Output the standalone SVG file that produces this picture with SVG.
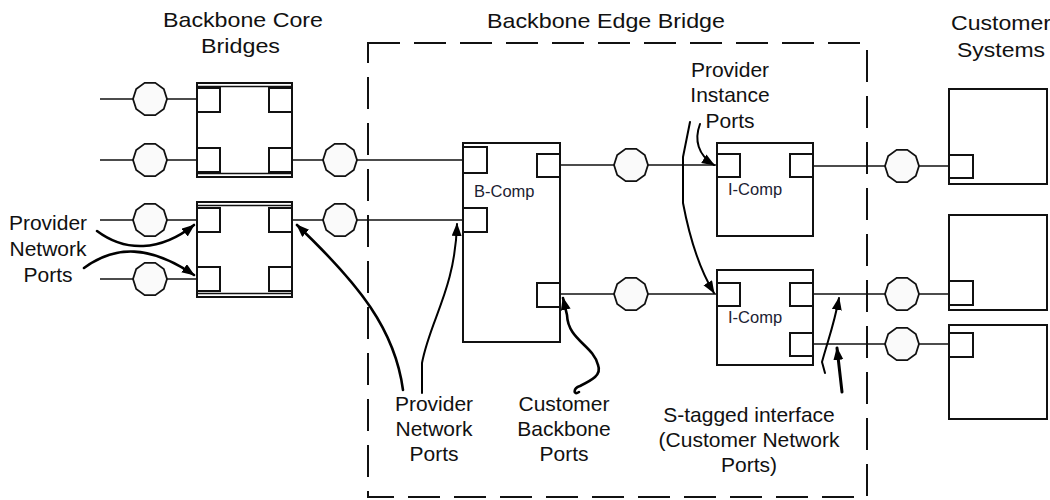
<svg xmlns="http://www.w3.org/2000/svg" xmlns:xlink="http://www.w3.org/1999/xlink" width="1050" height="500" viewBox="0 0 1050 500">
<style>
.box{fill:#fff;stroke:#111;stroke-width:2}
.port{fill:#fff;stroke:#111;stroke-width:2}
.ln{fill:none;stroke:#111;stroke-width:1.6}
.oct{fill:#fafafa;stroke:#111;stroke-width:1.8}
.arr{fill:none;stroke:#000;stroke-width:2.6;stroke-linecap:round;stroke-linejoin:round}
.dash{fill:none;stroke:#111;stroke-width:2;stroke-dasharray:32 14}
.hd{font-family:"Liberation Sans",Arial,sans-serif;font-size:21px;fill:#111}
.lbl{font-family:"Liberation Sans",Arial,sans-serif;font-size:21px;fill:#111;text-anchor:middle}
.cmp{font-family:"Liberation Sans",Arial,sans-serif;font-size:16.5px;fill:#1c2233}
</style>
<defs>
<polygon id="octa" points="17,0 13.8,10 5.3,16.2 -5.3,16.2 -13.8,10 -17,0 -13.8,-10 -5.3,-16.2 5.3,-16.2 13.8,-10"/>
<marker id="ah" markerUnits="userSpaceOnUse" markerWidth="14" markerHeight="12" refX="12" refY="5" orient="auto">
<path d="M0,0 L13,5 L0,10 Z" fill="#000"/>
</marker>
</defs>
<rect id="edge-bridge-frame" class="dash" x="368" y="43" width="499" height="454"/>
<g id="titles">
<text class="hd" x="163" y="27" textLength="160" lengthAdjust="spacingAndGlyphs">Backbone Core</text>
<text class="hd" x="201" y="53" textLength="79" lengthAdjust="spacingAndGlyphs">Bridges</text>
<text class="hd" x="487" y="28" textLength="238" lengthAdjust="spacingAndGlyphs">Backbone Edge Bridge</text>
<text class="hd" x="951" y="30" textLength="100" lengthAdjust="spacingAndGlyphs">Customer</text>
<text class="hd" x="957" y="57" textLength="88" lengthAdjust="spacingAndGlyphs">Systems</text>
</g>
<g id="connectors">
<line class="ln" x1="100" y1="99" x2="197" y2="99"/>
<line class="ln" x1="100" y1="160" x2="197" y2="160"/>
<line class="ln" x1="100" y1="220" x2="197" y2="220"/>
<line class="ln" x1="100" y1="279" x2="197" y2="279"/>
<line class="ln" x1="292" y1="160" x2="463" y2="160"/>
<line class="ln" x1="292" y1="220" x2="463" y2="220"/>
<line class="ln" x1="560" y1="165" x2="717" y2="165"/>
<line class="ln" x1="560" y1="294" x2="717" y2="294"/>
<line class="ln" x1="813" y1="166" x2="949" y2="166"/>
<line class="ln" x1="813" y1="294" x2="949" y2="294"/>
<line class="ln" x1="813" y1="344" x2="949" y2="344"/>
</g>
<g id="link-nodes">
<use xlink:href="#octa" class="oct" x="150" y="99"/>
<use xlink:href="#octa" class="oct" x="150" y="160"/>
<use xlink:href="#octa" class="oct" x="150" y="220"/>
<use xlink:href="#octa" class="oct" x="150" y="279"/>
<use xlink:href="#octa" class="oct" x="340" y="160"/>
<use xlink:href="#octa" class="oct" x="340" y="220"/>
<use xlink:href="#octa" class="oct" x="631" y="165"/>
<use xlink:href="#octa" class="oct" x="631" y="294"/>
<use xlink:href="#octa" class="oct" x="902" y="166"/>
<use xlink:href="#octa" class="oct" x="902" y="294"/>
<use xlink:href="#octa" class="oct" x="902" y="344"/>
</g>
<g id="core-bridge-1">
<rect class="box" x="197" y="83" width="95" height="94"/>
<line class="ln" x1="197" y1="86.5" x2="292" y2="86.5"/>
<line class="ln" x1="197" y1="173.5" x2="292" y2="173.5"/>
<rect class="port" x="197" y="88" width="23" height="24"/>
<rect class="port" x="269" y="88" width="23" height="24"/>
<rect class="port" x="197" y="148" width="23" height="24"/>
<rect class="port" x="269" y="148" width="23" height="24"/>
</g>
<g id="core-bridge-2">
<rect class="box" x="197" y="202" width="95" height="95"/>
<line class="ln" x1="197" y1="205.5" x2="292" y2="205.5"/>
<line class="ln" x1="197" y1="293.5" x2="292" y2="293.5"/>
<rect class="port" x="197" y="208" width="23" height="24"/>
<rect class="port" x="269" y="208" width="23" height="24"/>
<rect class="port" x="197" y="267" width="23" height="24"/>
<rect class="port" x="269" y="267" width="23" height="24"/>
</g>
<g id="b-comp">
<rect class="box" x="463" y="143" width="97" height="199"/>
<rect class="port" x="463" y="147" width="24" height="26"/>
<rect class="port" x="463" y="208" width="24" height="24"/>
<rect class="port" x="537" y="154" width="23" height="23"/>
<rect class="port" x="537" y="283" width="23" height="24"/>
<text class="cmp" x="474" y="197">B-Comp</text>
</g>
<g id="i-comp-1">
<rect class="box" x="717" y="143" width="96" height="93"/>
<rect class="port" x="717" y="154" width="23" height="23"/>
<rect class="port" x="790" y="154" width="23" height="23"/>
<text class="cmp" x="728" y="195">I-Comp</text>
</g>
<g id="i-comp-2">
<rect class="box" x="717" y="270" width="96" height="95"/>
<rect class="port" x="717" y="283" width="23" height="23"/>
<rect class="port" x="790" y="283" width="23" height="23"/>
<rect class="port" x="790" y="333" width="23" height="23"/>
<text class="cmp" x="728" y="323">I-Comp</text>
</g>
<g id="customer-1">
<rect class="box" x="949" y="89" width="98" height="95"/>
<rect class="port" x="949" y="155" width="24" height="23"/>
</g>
<g id="customer-2">
<rect class="box" x="949" y="215" width="98" height="95"/>
<rect class="port" x="949" y="281" width="24" height="24"/>
</g>
<g id="customer-3">
<rect class="box" x="949" y="325" width="98" height="94"/>
<rect class="port" x="949" y="333" width="24" height="24"/>
</g>
<g id="annotations">
<path class="arr" marker-end="url(#ah)" d="M97 231 C125 252, 160 252, 194 225"/>
<path class="arr" marker-end="url(#ah)" d="M84 268 C115 245, 150 245, 194 275"/>
<path class="arr" marker-end="url(#ah)" d="M403 390 C395 330, 360 285, 297 225"/>
<path class="arr" style="stroke-width:2" marker-end="url(#ah)" d="M422 393 L422 363 C430 320, 455 290, 457 224"/>
<path class="arr" marker-end="url(#ah)" d="M579 392 c-6 4,-6 -4,1 -6 C592 380, 602 375, 598 365 C593 345, 568 340, 567 315 L563 298"/>
<path class="arr" style="stroke-width:2" marker-end="url(#ah)" d="M700 124 C694 140, 698 155, 714 165"/>
<path class="arr" style="stroke-width:2" marker-end="url(#ah)" d="M690 122 L683 157 L683 203 C690 240, 700 270, 714 293"/>
<path class="arr" style="stroke-width:2" marker-end="url(#ah)" d="M825 373 L822 362 C828 340, 834 325, 839 298"/>
<path class="arr" style="stroke-width:3" marker-end="url(#ah)" d="M842 392 L837 348"/>
</g>
<g id="labels">
<text class="lbl" x="48" y="230">Provider</text>
<text class="lbl" x="48" y="256">Network</text>
<text class="lbl" x="48" y="282">Ports</text>
<text class="lbl" x="434" y="411">Provider</text>
<text class="lbl" x="434" y="436">Network</text>
<text class="lbl" x="434" y="461">Ports</text>
<text class="lbl" x="564" y="411">Customer</text>
<text class="lbl" x="564" y="436">Backbone</text>
<text class="lbl" x="564" y="461">Ports</text>
<text class="lbl" x="749" y="422">S-tagged interface</text>
<text class="lbl" x="749" y="447">(Customer Network</text>
<text class="lbl" x="749" y="472">Ports)</text>
<text class="lbl" x="730" y="77">Provider</text>
<text class="lbl" x="730" y="102">Instance</text>
<text class="lbl" x="730" y="128">Ports</text>
</g>
</svg>
